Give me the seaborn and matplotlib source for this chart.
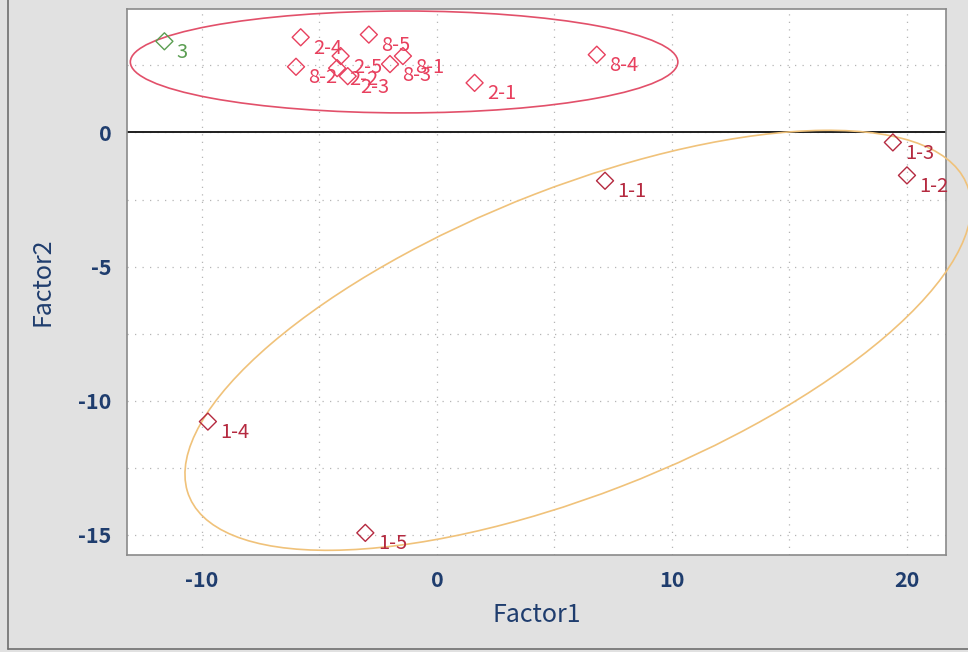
import matplotlib
matplotlib.use("Agg")
import matplotlib.pyplot as plt
from matplotlib.patches import Ellipse
from matplotlib.lines import Line2D
import pandas as pd
import seaborn as sns

# Factor scores per sample group
g1_labels = ["1-1", "1-2", "1-3", "1-4", "1-5"]
g1_f1 = [7.15, 20.0, 19.4, -9.75, -3.05]
g1_f2 = [-1.8, -1.6, -0.37, -10.78, -14.93]

g28_labels = ["2-1", "2-2", "2-3", "2-4", "2-5", "8-1", "8-2", "8-3", "8-4", "8-5"]
g28_f1 = [1.6, -4.25, -3.8, -5.8, -4.1, -1.45, -6.0, -2.0, 6.8, -2.9]
g28_f2 = [1.85, 2.4, 2.1, 3.55, 2.85, 2.85, 2.45, 2.55, 2.9, 3.65]

g3_labels = ["3"]
g3_f1 = [-11.6]
g3_f2 = [3.4]

# Group ellipses: centre x, centre y, width, height, angle (data units)
ell_28 = (-1.4, 2.63, 23.3, 3.8, 0.0)
ell_1 = (6.0, -7.75, 35.1, 11.5, 18.7)

x_ticks = [-10, -5, 0, 5, 10, 15, 20]
x_ticklabels = ["-10", "", "0", "", "10", "", "20"]
y_ticks = [-15, -12.5, -10, -7.5, -5, -2.5, 0, 2.5]
y_ticklabels = ["-15", "", "-10", "", "-5", "", "0", ""]

sns.set_theme(style="white")
plt.rcParams["font.family"] = ["Noto Sans CJK JP", "DejaVu Sans"]

navy = "#1f3d6e"
col_1 = "#b52a40"
col_28 = "#e8405e"
col_3 = "#5b9e52"

fig = plt.figure(figsize=(9.68, 6.52), dpi=100, facecolor="#e1e1e1")
ax = fig.add_axes([0.131, 0.149, 0.846, 0.837])
ax.set_facecolor("white")

groups = [
    (g28_labels, g28_f1, g28_f2, col_28),
    (g1_labels, g1_f1, g1_f2, col_1),
    (g3_labels, g3_f1, g3_f2, col_3),
]

for labels, f1, f2, c in groups:
    df = pd.DataFrame({"Factor1": f1, "Factor2": f2, "label": labels})
    sns.scatterplot(data=df, x="Factor1", y="Factor2", marker="D", s=75,
                    color=c, ax=ax, zorder=4, legend=False)
    pts = ax.collections[-1]
    pts.set_facecolor("none")
    pts.set_edgecolor(c)
    pts.set_linewidth(1.0)
    for lbl, x, y in zip(labels, f1, f2):
        ax.annotate(lbl, (x, y), xytext=(9, -8), textcoords="offset points",
                    color=c, fontsize=14.5, ha="left", va="center", zorder=5)

cx, cy, w, h, a = ell_28
ax.add_patch(Ellipse((cx, cy), w, h, angle=a, fill=False,
                     edgecolor="#e2506a", lw=1.2, zorder=3))
cx, cy, w, h, a = ell_1
ax.add_patch(Ellipse((cx, cy), w, h, angle=a, fill=False,
                     edgecolor="#f0c27a", lw=1.2, zorder=3, clip_on=False))

ax.axhline(0, color="#1e1e1e", lw=1.4, zorder=2)

ax.set_xlim(-13.2, 21.65)
ax.set_ylim(-15.75, 4.6)
ax.set_xticks(x_ticks)
ax.set_xticklabels(x_ticklabels)
ax.set_yticks(y_ticks)
ax.set_yticklabels(y_ticklabels)
ax.grid(True, color="#b5b5b5", lw=0.9, linestyle=(0, (1, 5)))
ax.tick_params(axis="both", direction="out", length=5, width=1,
               color="#8a8a8a", labelcolor=navy, labelsize=15.5, pad=6)
for t in ax.get_xticklabels() + ax.get_yticklabels():
    t.set_fontweight("bold")
for s in ax.spines.values():
    s.set_color("#8a8a8a")
    s.set_linewidth(1.2)

ax.set_xlabel("Factor1", color=navy, fontsize=18, labelpad=8)
ax.set_ylabel("Factor2", color=navy, fontsize=18, labelpad=16)

# outer frame of the panel
fig.add_artist(Line2D([0.008, 0.008], [0.005, 1.0], transform=fig.transFigure,
                      color="#6e6e6e", lw=1.2))
fig.add_artist(Line2D([0.008, 1.0], [0.005, 0.005], transform=fig.transFigure,
                      color="#6e6e6e", lw=1.2))

fig.savefig("out.png", dpi=100, facecolor=fig.get_facecolor())
